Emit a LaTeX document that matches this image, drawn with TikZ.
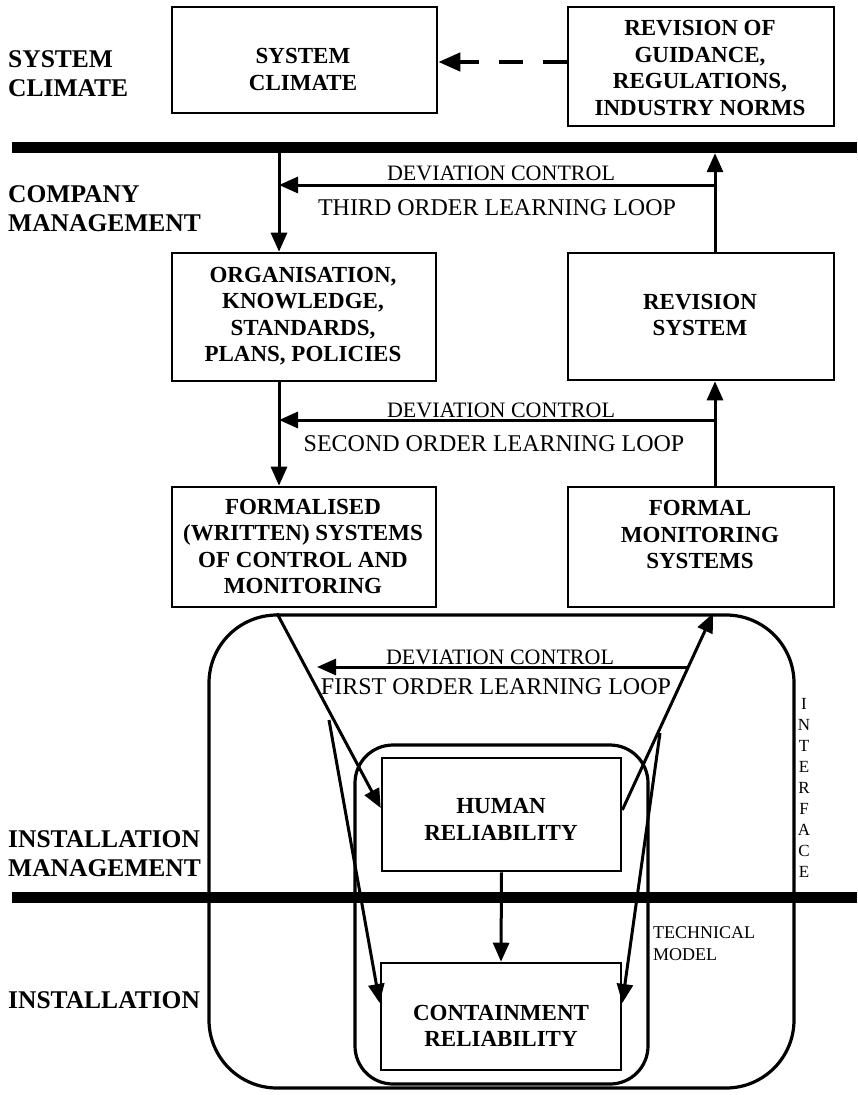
\documentclass[tikz,border=0pt]{standalone}
\usepackage{fontspec}
\setmainfont{Liberation Serif}
\usetikzlibrary{arrows.meta}
\begin{document}
\begin{tikzpicture}[x=1pt,y=-1pt,
  box/.style={draw,line width=2.6pt,inner sep=0pt,fill=white},
  rbox/.style={draw,line width=3.2pt,inner sep=0pt},
  bar/.style={fill=black,inner sep=0pt,minimum width=845pt,minimum height=11pt},
  btext/.style={font=\fontsize{23}{26.5}\selectfont\bfseries,align=center,inner sep=0pt},
  lbl/.style={font=\fontsize{25.5}{29}\selectfont\bfseries,align=left,anchor=west,inner sep=0pt},
  dctext/.style={font=\fontsize{22}{26}\selectfont,inner sep=0pt},
  looptext/.style={font=\fontsize{24}{28}\selectfont,inner sep=0pt},
  arr/.style={line width=3pt,-{Triangle[length=19pt,width=16pt]}},
  darr/.style={line width=4.5pt,dash pattern=on 24pt off 20pt,-{Triangle[length=22pt,width=18pt]}}]
\useasboundingbox (0,0) rectangle (857,1095);

% rounded regions
\node[rbox,rounded corners=68pt,minimum width=585pt,minimum height=473pt] (outer) at (501.5,851.5) {};
\node[rbox,rounded corners=38pt,minimum width=293pt,minimum height=339pt] (inner) at (501.5,914.5) {};

% bars
\node[bar] (bar1) at (434.5,147.5) {};
\node[bar] (bar2) at (434.5,897.5) {};

% boxes
\node[box,minimum width=265pt,minimum height=106pt] (sc) at (304.5,60) {};
\node[box,minimum width=266pt,minimum height=119pt] (rg) at (701,66.5) {};
\node[box,minimum width=264pt,minimum height=128pt] (org) at (304,317) {};
\node[box,minimum width=266pt,minimum height=127pt] (rs) at (701,316.5) {};
\node[box,minimum width=264pt,minimum height=120pt] (fs) at (304,547) {};
\node[box,minimum width=266pt,minimum height=120pt] (fm) at (701,547) {};
\node[box,minimum width=239pt,minimum height=113pt] (hr) at (501.5,814.5) {};
\node[box,minimum width=240pt,minimum height=107pt] (cr) at (501,1016.5) {};

% box texts
\node[btext] (tsc) at (303,69.5) {SYSTEM\\CLIMATE};
\node[btext] (trg) at (700,68) {REVISION OF\\GUIDANCE,\\REGULATIONS,\\INDUSTRY NORMS};
\node[btext] (torg) at (303,316.3) {ORGANISATION,\\KNOWLEDGE,\\STANDARDS,\\PLANS, POLICIES};
\node[btext] (trs) at (700,315) {REVISION\\SYSTEM};
\node[btext] (tfs) at (303,546.5) {FORMALISED\\(WRITTEN) SYSTEMS\\OF CONTROL AND\\MONITORING};
\node[btext] (tfm) at (700,534.5) {FORMAL\\MONITORING\\SYSTEMS};
\node[btext] (thr) at (501,819.5) {HUMAN\\RELIABILITY};
\node[btext] (tcr) at (501,1026) {CONTAINMENT\\RELIABILITY};

% left labels
\node[lbl] (l1) at (8,73.5) {SYSTEM\\CLIMATE};
\node[lbl] (l2) at (8,209) {COMPANY\\MANAGEMENT};
\node[lbl] (l3) at (8,853.5) {INSTALLATION\\MANAGEMENT};
\node[lbl] (l4) at (8,1000) {INSTALLATION};

% dashed arrow
\draw[darr] (rg.west |- 0,62) -- (sc.east |- 0,62);

% third order loop
\draw[arr] (279,0 |- bar1.south) -- (279,0 |- org.north);
\draw[arr] (715,0 |- rs.north) -- (715,0 |- bar1.south);
\draw[arr] (715,185) -- (279,185);
\node[dctext] (dc3) at (501,173) {DEVIATION CONTROL};
\node[looptext] (lp3) at (497,208) {THIRD ORDER LEARNING LOOP};

% second order loop
\draw[arr] (279,0 |- org.south) -- (279,0 |- fs.north);
\draw[arr] (715,0 |- fm.north) -- (715,0 |- rs.south);
\draw[arr] (715,420) -- (279,420);
\node[dctext] (dc2) at (501,410) {DEVIATION CONTROL};
\node[looptext] (lp2) at (494,444) {SECOND ORDER LEARNING LOOP};

% first order loop
\coordinate (f1) at (outer.north -| 277,0);
\coordinate (f2) at (outer.north -| 713,0);
\coordinate (d1s) at (689,667);
\coordinate (d1e) at (317,667);
\coordinate (a1) at (329,720);
\coordinate (a2) at (660,733);
\draw[arr] (f1) -- (hr.west |- 0,808);
\draw[arr] (hr.east |- 0,810) -- (f2);
\draw[arr] (d1s) -- (d1e);
\node[dctext] (dc1) at (500,657) {DEVIATION CONTROL};
\node[looptext] (lp1) at (496,687) {FIRST ORDER LEARNING LOOP};
\draw[arr] (a1) -- (cr.west |- 0,1003);
\draw[arr] (a2) -- (cr.east |- 0,1003);
\draw[arr] (hr.south) -- (cr.north);

% side labels
\node[font=\fontsize{17}{21}\selectfont,align=center,inner sep=0pt] (iface) at (804,787.5) {I\\N\\T\\E\\R\\F\\A\\C\\E};
\node[font=\fontsize{18}{22}\selectfont,align=left,anchor=west,inner sep=0pt] (tm) at (653,944) {TECHNICAL\\MODEL};
\end{tikzpicture}
\end{document}
